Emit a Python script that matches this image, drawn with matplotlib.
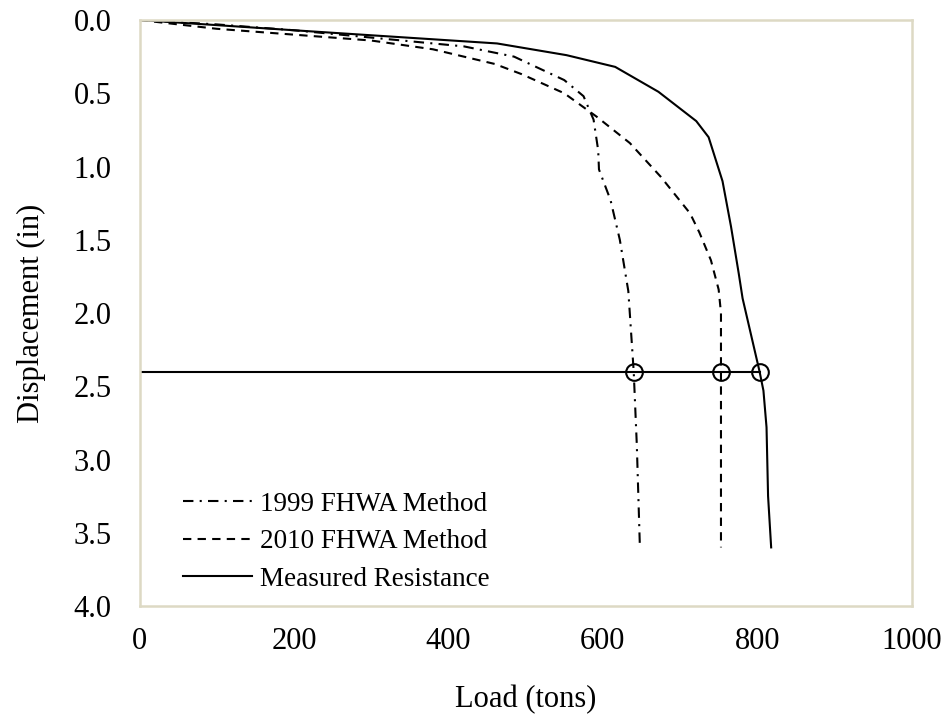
import matplotlib
matplotlib.use("Agg")
import matplotlib.pyplot as plt

plt.rcParams['font.family'] = ['Liberation Serif', 'DejaVu Serif']

# Load-displacement curves (load in tons, displacement in inches)
fhwa1999_load = [0, 100, 200, 300, 420, 485, 550, 575, 588, 594, 595, 610, 622, 633, 640, 644, 648]
fhwa1999_disp = [0, 0.03, 0.07, 0.12, 0.18, 0.25, 0.41, 0.52, 0.68, 0.89, 1.02, 1.23, 1.50, 1.85, 2.40, 2.90, 3.60]

fhwa2010_load = [0, 100, 200, 300, 380, 460, 495, 550, 592, 635, 675, 713, 725, 740, 750, 753, 753]
fhwa2010_disp = [0, 0.06, 0.10, 0.14, 0.20, 0.30, 0.37, 0.50, 0.66, 0.84, 1.07, 1.32, 1.45, 1.64, 1.84, 2.00, 3.60]

measured_load = [0, 200, 463, 553, 616, 672, 721, 737, 755, 766, 776, 781, 803, 808, 812, 814, 818]
measured_disp = [0, 0.07, 0.16, 0.24, 0.32, 0.49, 0.69, 0.80, 1.10, 1.41, 1.73, 1.90, 2.40, 2.53, 2.78, 3.25, 3.60]

# Capacity at the failure displacement criterion
criterion_disp = 2.4
capacity_load = [640, 753, 803]

x_ticks = [0, 200, 400, 600, 800, 1000]
y_ticks = [0.0, 0.5, 1.0, 1.5, 2.0, 2.5, 3.0, 3.5, 4.0]

fig = plt.figure(figsize=(9.48, 7.17), dpi=100)
ax = fig.add_axes([0.1472, 0.1548, 0.8145, 0.8173])

ax.plot(fhwa1999_load, fhwa1999_disp, color='black', lw=1.5,
        linestyle=(0, (5, 3, 1, 3)), label='1999 FHWA Method')
ax.plot(fhwa2010_load, fhwa2010_disp, color='black', lw=1.5,
        linestyle=(0, (4, 3)), label='2010 FHWA Method')
ax.plot(measured_load, measured_disp, color='black', lw=1.5,
        linestyle='-', label='Measured Resistance')

ax.plot([0, max(capacity_load)], [criterion_disp, criterion_disp],
        color='black', lw=1.5)
ax.plot(capacity_load, [criterion_disp] * len(capacity_load), linestyle='none',
        marker='o', markersize=12, markerfacecolor='none',
        markeredgecolor='black', markeredgewidth=1.5)

ax.set_xlim(0, 1000)
ax.set_ylim(4.0, 0.0)
ax.set_xticks(x_ticks)
ax.set_yticks(y_ticks)
ax.set_xticklabels([str(v) for v in x_ticks])
ax.set_yticklabels([f"{v:.1f}" for v in y_ticks])
ax.tick_params(axis='both', length=0, labelsize=22, colors='black')
ax.tick_params(axis='x', pad=15)
ax.tick_params(axis='y', pad=20)

for s in ax.spines.values():
    s.set_color('#DDD9C4')
    s.set_linewidth(1.8)

ax.set_xlabel('Load (tons)', fontsize=22, labelpad=21)
ax.set_ylabel('Displacement (in)', fontsize=22, labelpad=20)

leg = ax.legend(loc='lower left', fontsize=19.5, frameon=False,
                handlelength=2.55, handletextpad=0.3, labelspacing=0.46,
                borderaxespad=0.0, bbox_to_anchor=(0.0426, 0.006))

fig.savefig('out.png', dpi=100)
